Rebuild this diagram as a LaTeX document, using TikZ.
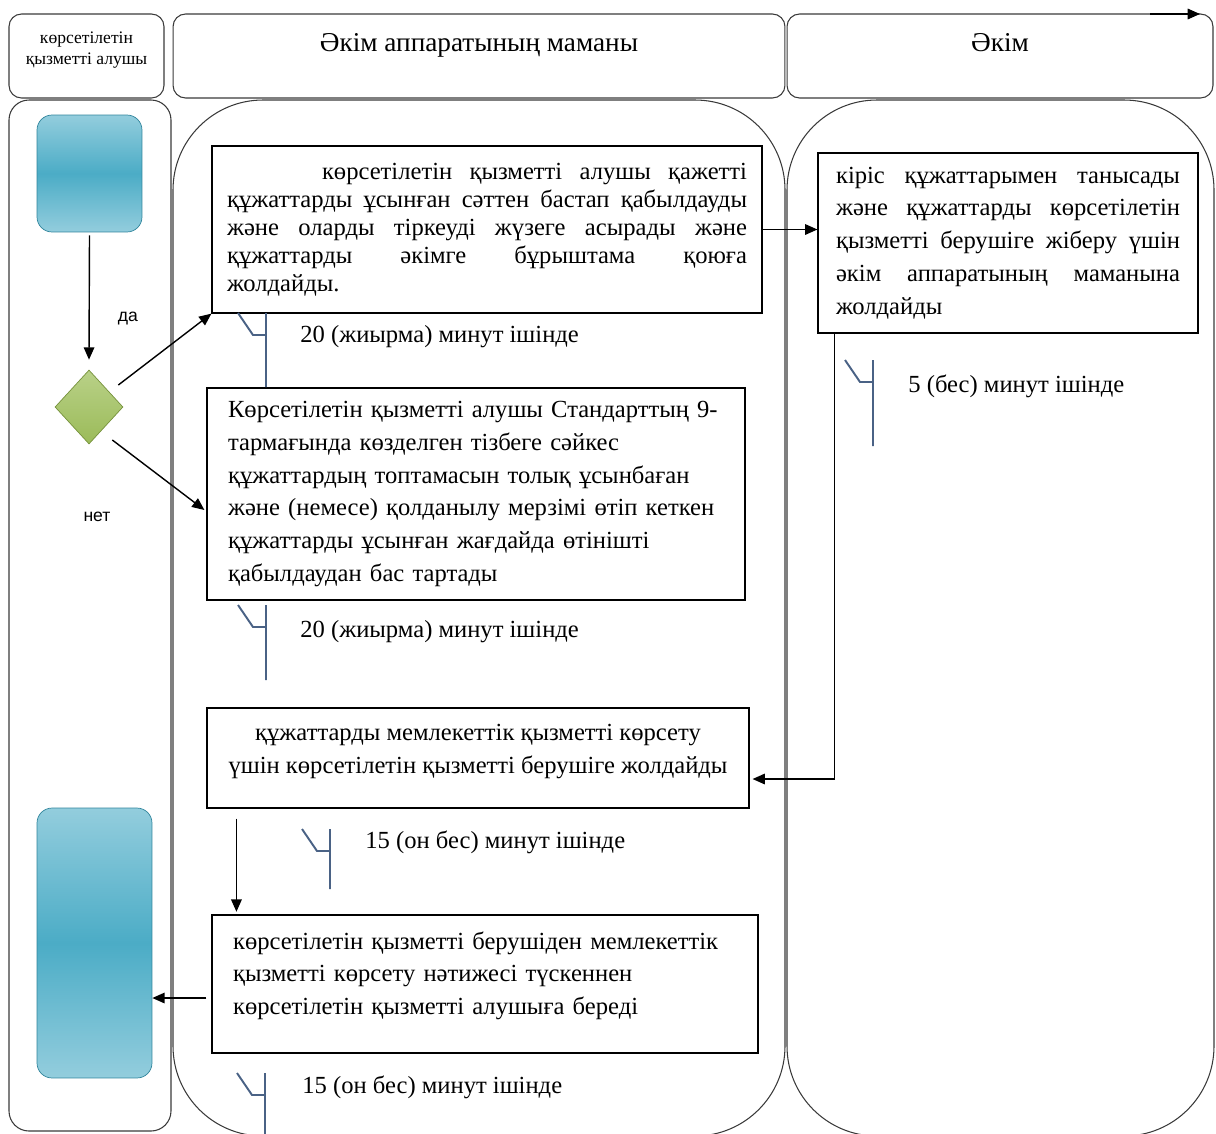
\documentclass[tikz,border=0pt]{standalone}
\usepackage{fontspec}
\setmainfont{Liberation Serif}
\newfontfamily\lblfont{Liberation Sans}
\usetikzlibrary{arrows.meta,shapes.geometric}
\definecolor{aquaA}{HTML}{4BACC6}
\definecolor{aquaL}{HTML}{93CDDD}
\definecolor{aquaD}{HTML}{31859C}
\definecolor{olivA}{HTML}{9BBB59}
\definecolor{olivL}{HTML}{B9D188}
\definecolor{olivD}{HTML}{76923C}
\definecolor{markc}{HTML}{4A6285}
\definecolor{lanec}{HTML}{3A3A3A}
\tikzset{
  lane/.style={draw=lanec, line width=0.6pt},
  hdr/.style={draw=lanec, line width=0.6pt, rounded corners=0.25cm, align=center, inner sep=0pt},
  stepbox/.style={draw, line width=0.7pt, fill=white, inner ysep=0pt, font=\fontsize{14}{18.7}\selectfont},
  term/.style={rounded corners=0.3cm, draw=aquaD, top color=aquaL, bottom color=aquaL, middle color=aquaA, inner sep=0pt},
  timebar/.style={draw=markc, line width=1.1pt},
  timetxt/.style={anchor=west, inner sep=0pt, font=\fontsize{14}{16}\selectfont},
  yesno/.style={inner sep=0pt, font=\lblfont\fontsize{10}{12}\selectfont},
  flow/.style={->, line width=0.8pt}
}
\begin{document}
\begin{tikzpicture}[x=0.02cm, y=-0.02cm, >={Triangle[length=7pt,width=6pt]}]
\useasboundingbox (0,0) rectangle (1216,1133);
% lanes
\draw[lane, rounded corners=0.4cm] (9,100) rectangle (171,1131);
\draw[lane, rounded corners=1.8cm] (173,100) rectangle (785,1136);
\draw[lane, rounded corners=1.8cm] (787,100) rectangle (1214,1136);
\node[hdr, minimum width=3.1cm, minimum height=1.68cm, text depth=0.3cm, font=\fontsize{10}{12}\selectfont] (h1) at (86.5,56) {көрсетілетін\\қызметті алушы};
\node[hdr, minimum width=12.24cm, minimum height=1.68cm, text depth=0.55cm, font=\fontsize{15.5}{18}\selectfont] (h2) at (479,56) {Әкім аппаратының маманы};
\node[hdr, minimum width=8.52cm, minimum height=1.68cm, text depth=0.55cm, font=\fontsize{15.5}{18}\selectfont] (h3) at (1000,56) {Әкім};
\coordinate (q0) at (1150,14);
\coordinate (q1) at (1200,14);
\draw[flow] (q0) -- (q1);

% receiver side
\node[term, minimum width=2.1cm, minimum height=2.34cm] (sq) at (89.5,173.5) {};
\node[diamond, draw=olivD, top color=olivL, bottom color=olivA, minimum width=1.36cm, minimum height=1.48cm, inner sep=0pt] (dia) at (89,407) {};
\node[term, minimum width=2.3cm, minimum height=5.4cm] (res) at (94.5,943) {};
\node[yesno] (yes) at (128,319) {да};
\node[yesno] (no) at (97,517) {нет};

% steps
\node[stepbox, minimum width=11cm, minimum height=3.34cm, text width=10.4cm, inner xsep=0.3cm, align=justify, font=\fontsize{14}{15.9}\selectfont] (b1) at (487,229.5)
  {\hspace*{1.9cm}көрсетілетін қызметті алушы қажетті\linebreak құжаттарды ұсынған сәттен бастап қабылдауды\linebreak және оларды тіркеуді жүзеге асырады және\linebreak құжаттарды әкімге бұрыштама қоюға\linebreak жолдайды.};
\node[stepbox, minimum width=10.76cm, minimum height=4.24cm, text width=9.92cm, inner xsep=0.42cm, align=left] (b2) at (476,494)
  {Көрсетілетін қызметті алушы Стандарттың 9-\\тармағында көзделген тізбеге сәйкес\\құжаттардың топтамасын толық ұсынбаған\\және (немесе) қолданылу мерзімі өтіп кеткен\\құжаттарды ұсынған жағдайда өтінішті\\қабылдаудан бас тартады};
\node[stepbox, minimum width=7.6cm, minimum height=3.6cm, text width=6.88cm, inner xsep=0.36cm, align=justify] (b3) at (1008,243)
  {кіріс құжаттарымен танысады\linebreak және құжаттарды көрсетілетін\linebreak қызметті берушіге жіберу үшін\linebreak әкім аппаратының маманына\linebreak жолдайды};
\node[stepbox, minimum width=10.84cm, minimum height=2cm, text depth=0.38cm, align=center] (b4) at (478,758)
  {құжаттарды мемлекеттік қызметті көрсету\\үшін көрсетілетін қызметті берушіге жолдайды};
\node[stepbox, minimum width=10.92cm, minimum height=2.76cm, text width=10.08cm, inner xsep=0.42cm, text depth=1.75cm, align=left] (b5) at (485,984)
  {көрсетілетін қызметті берушіден мемлекеттік\\қызметті көрсету нәтижесі түскеннен\\көрсетілетін қызметті алушыға береді};

% time marks
\foreach \x/\y/\l in {238/313/74, 238/605/75, 845/360/86, 302/829/60, 237/1073/62}
  \draw[timebar] (\x,\y) -- ++(15,22) -- ++(13,0) (\x+28,\y) -- ++(0,\l);
\node[timetxt] (d1) at (300,337) {20 (жиырма) минут ішінде};
\node[timetxt] (d2) at (300,632) {20 (жиырма) минут ішінде};
\node[timetxt] (d3) at (908,386) {5 (бес) минут ішінде};
\node[timetxt] (d4) at (365,842) {15 (он бес) минут ішінде};
\node[timetxt] (d5) at (302,1087) {15 (он бес) минут ішінде};

% connectors
\draw[flow] ([shift={(0,3)}]sq.south) -- ([shift={(0,-10)}]dia.north);
\draw[flow] ([shift={(-5,-22)}]dia.east) -- (b1.south west);
\draw[flow] ([shift={(-11,33)}]dia.east) -- ([shift={(-2,16)}]b2.west);
\draw[flow] (b1.east) -- (b1.east -| b3.west);
\draw[flow] ([shift={(17,0)}]b3.south west) |- ([shift={(3,21)}]b4.east);
\coordinate (d0) at ([shift={(30,10)}]b4.south west);
\draw[flow, shorten >=1.5pt] (d0) -- (d0 |- b5.north);
\coordinate (r0) at ([shift={(-5,14)}]b5.west);
\draw[flow] (r0) -- (r0 -| res.east);
\end{tikzpicture}
\end{document}
